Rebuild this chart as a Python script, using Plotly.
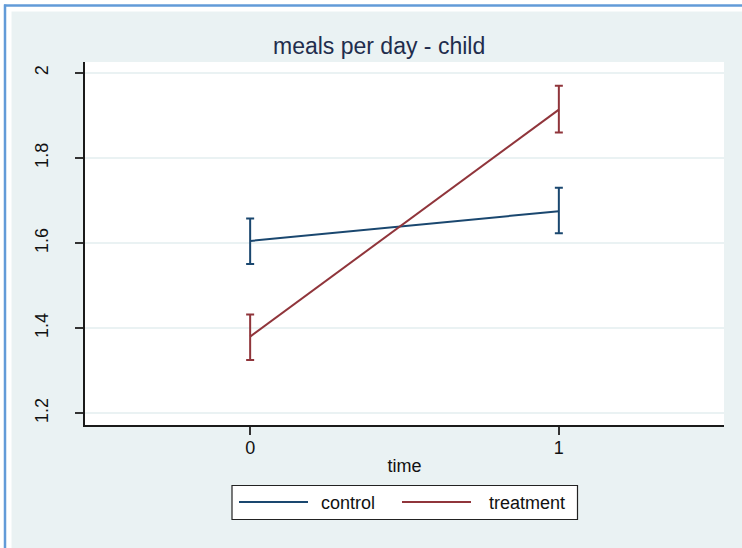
import plotly.graph_objects as go

# --- data -------------------------------------------------------------
time_points = [0, 1]
group_names = ["control", "treatment"]
control_mean = [1.605, 1.675]
control_upper = [1.658, 1.730]
control_lower = [1.551, 1.623]
treatment_mean = [1.380, 1.914]
treatment_upper = [1.432, 1.970]
treatment_lower = [1.325, 1.860]
y_ticks = [1.2, 1.4, 1.6, 1.8, 2.0]
y_tick_text = ["1.2", "1.4", "1.6", "1.8", "2"]
x_ticks = [0, 1]
chart_title = "meals per day - child"
x_title = "time"

# --- styling ------------------------------------------------------------
W, H = 742, 548
L, R, T, B = 85, 724, 62, 425          # plot area in pixels
FONT = "Liberation Sans, Arial, sans-serif"
BG = "#EAF2F3"
COLORS = ["#1a476f", "#90353b"]
BORDER = "#629bd8"


def px_x(px):
    return (px - L) / (R - L)


def px_y(py):
    return (B - py) / (B - T)


def series(name, mean, upper, lower, color):
    return go.Scatter(
        x=time_points, y=mean, name=name, mode="lines",
        line=dict(color=color, width=2),
        error_y=dict(
            type="data", symmetric=False,
            array=[u - m for u, m in zip(upper, mean)],
            arrayminus=[m - lo for m, lo in zip(mean, lower)],
            color=color, thickness=2, width=4,
        ),
        showlegend=False,
    )


fig = go.Figure()
fig.add_trace(series(group_names[0], control_mean, control_upper, control_lower, COLORS[0]))
fig.add_trace(series(group_names[1], treatment_mean, treatment_upper, treatment_lower, COLORS[1]))

shapes = [
    # white frame strip above / left of the graph region
    dict(type="rect", xref="paper", yref="paper", x0=px_x(0), x1=px_x(W), y0=px_y(11.5), y1=px_y(0),
         fillcolor="white", line=dict(width=0), layer="above"),
    dict(type="rect", xref="paper", yref="paper", x0=px_x(0), x1=px_x(11.5), y0=px_y(H), y1=px_y(0),
         fillcolor="white", line=dict(width=0), layer="above"),
    # blue outer border
    dict(type="line", xref="paper", yref="paper", x0=px_x(4), x1=px_x(W), y0=px_y(5.5), y1=px_y(5.5),
         line=dict(color=BORDER, width=2.5), layer="above"),
    dict(type="line", xref="paper", yref="paper", x0=px_x(5), x1=px_x(5), y0=px_y(H), y1=px_y(4.5),
         line=dict(color=BORDER, width=2.5), layer="above"),
    # legend box
    dict(type="rect", xref="paper", yref="paper", x0=px_x(232), x1=px_x(577.5), y0=px_y(519.5), y1=px_y(485.5),
         fillcolor="white", line=dict(color="#222222", width=1.2), layer="above"),
]

annotations = [
    dict(text=chart_title, xref="paper", yref="paper", x=px_x(378.5), y=px_y(46),
         xanchor="center", yanchor="middle", showarrow=False,
         font=dict(family=FONT, size=23, color="#1f2d4d")),
]

# legend entries
legend_items = [(group_names[0], COLORS[0], 239, 308, 319), (group_names[1], COLORS[1], 402, 471, 487)]
for name, color, lx0, lx1, tx in legend_items:
    shapes.append(dict(type="line", xref="paper", yref="paper", x0=px_x(lx0), x1=px_x(lx1),
                       y0=px_y(502), y1=px_y(502), line=dict(color=color, width=2), layer="above"))
    annotations.append(dict(text=name, xref="paper", yref="paper", x=px_x(tx), y=px_y(502.5),
                            xanchor="left", yanchor="middle", showarrow=False,
                            font=dict(family=FONT, size=18, color="#111111")))

fig.update_layout(
    width=W, height=H,
    margin=dict(l=L, r=W - R, t=T, b=H - B, pad=0),
    paper_bgcolor=BG, plot_bgcolor="white",
    font=dict(family=FONT, size=18, color="#111111"),
    shapes=shapes, annotations=annotations,
    showlegend=False,
)
fig.update_xaxes(
    range=[-0.535, 1.535], tickvals=x_ticks, ticktext=[str(v) for v in x_ticks],
    showgrid=False, zeroline=False,
    showline=True, linecolor="#1a1a1a", linewidth=1.5,
    ticks="outside", ticklen=8, tickwidth=1.5, tickcolor="#333333",
    tickfont=dict(size=18), ticklabelstandoff=-2,
    title=dict(text=x_title, font=dict(size=18), standoff=2),
)
fig.update_yaxes(
    range=[1.172, 2.026], tickvals=y_ticks, ticktext=y_tick_text, tickangle=-90,
    showgrid=True, gridcolor=BG, gridwidth=1.5, zeroline=False,
    showline=True, linecolor="#1a1a1a", linewidth=1.5,
    ticks="outside", ticklen=8, tickwidth=1.5, tickcolor="#333333",
    tickfont=dict(size=18), ticklabelstandoff=20,
)

fig.write_html("out.html")
